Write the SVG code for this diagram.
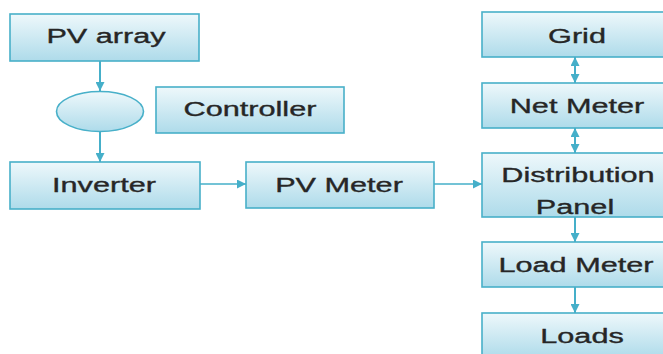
<svg xmlns="http://www.w3.org/2000/svg" width="663" height="354" viewBox="0 0 663 354">
<defs>
<linearGradient id="g" x1="0" y1="0" x2="0" y2="1">
<stop offset="0" stop-color="#eef8fb"/>
<stop offset="1" stop-color="#aedbea"/>
</linearGradient>
<marker id="ah" viewBox="0 0 10 10" refX="10" refY="5" markerWidth="9" markerHeight="9" markerUnits="userSpaceOnUse" orient="auto-start-reverse">
<path d="M0,0 L10,5 L0,10 z" fill="#45afc9"/>
</marker>
</defs>
<style>
.box{fill:url(#g);stroke:#48b0c9;stroke-width:1.6}
.t{font-family:"Liberation Sans",Arial,sans-serif;font-size:21px;fill:#262626;stroke:#262626;stroke-width:0.35;text-anchor:middle}
.c{stroke:#45afc9;fill:none}
.v{stroke-width:2}
.h{stroke-width:1.6}
</style>
<rect width="663" height="354" fill="#ffffff"/>
<g id="connectors">
<line class="c v" x1="100" y1="61" x2="100" y2="91" marker-end="url(#ah)"/>
<line class="c v" x1="100" y1="131" x2="100" y2="162" marker-end="url(#ah)"/>
<line class="c h" x1="200" y1="184" x2="246" y2="184" marker-end="url(#ah)"/>
<line class="c h" x1="434" y1="184" x2="482" y2="184" marker-end="url(#ah)"/>
<line class="c v" x1="575" y1="57" x2="575" y2="83" marker-start="url(#ah)" marker-end="url(#ah)"/>
<line class="c v" x1="575" y1="128" x2="575" y2="153" marker-start="url(#ah)" marker-end="url(#ah)"/>
<line class="c v" x1="575" y1="217" x2="575" y2="242" marker-end="url(#ah)"/>
<line class="c v" x1="575" y1="287" x2="575" y2="313" marker-end="url(#ah)"/>
</g>
<g id="pv-array">
<rect class="box" x="10" y="14" width="189" height="47"/>
<text class="t" transform="translate(106,43) scale(1.46,1)">PV array</text>
</g>
<g id="junction">
<ellipse class="box" cx="100" cy="111.5" rx="43.5" ry="20"/>
</g>
<g id="controller">
<rect class="box" x="156" y="87" width="188" height="46"/>
<text class="t" transform="translate(250,116) scale(1.46,1)">Controller</text>
</g>
<g id="inverter">
<rect class="box" x="10" y="162" width="190" height="47"/>
<text class="t" transform="translate(104,192) scale(1.46,1)">Inverter</text>
</g>
<g id="pv-meter">
<rect class="box" x="246" y="162" width="188" height="46"/>
<text class="t" transform="translate(339,192) scale(1.46,1)">PV Meter</text>
</g>
<g id="grid">
<rect class="box" x="482" y="12" width="192" height="45"/>
<text class="t" transform="translate(577,43) scale(1.46,1)">Grid</text>
</g>
<g id="net-meter">
<rect class="box" x="482" y="83" width="192" height="45"/>
<text class="t" transform="translate(577,113) scale(1.46,1)">Net Meter</text>
</g>
<g id="distribution-panel">
<rect class="box" x="482" y="153" width="192" height="64"/>
<text class="t" transform="translate(578,182) scale(1.46,1)">Distribution</text>
<text class="t" transform="translate(575,214) scale(1.46,1)">Panel</text>
</g>
<g id="load-meter">
<rect class="box" x="482" y="242" width="192" height="45"/>
<text class="t" transform="translate(576,272) scale(1.46,1)">Load Meter</text>
</g>
<g id="loads">
<rect class="box" x="482" y="313" width="192" height="45"/>
<text class="t" transform="translate(582,343) scale(1.46,1)">Loads</text>
</g>
</svg>
